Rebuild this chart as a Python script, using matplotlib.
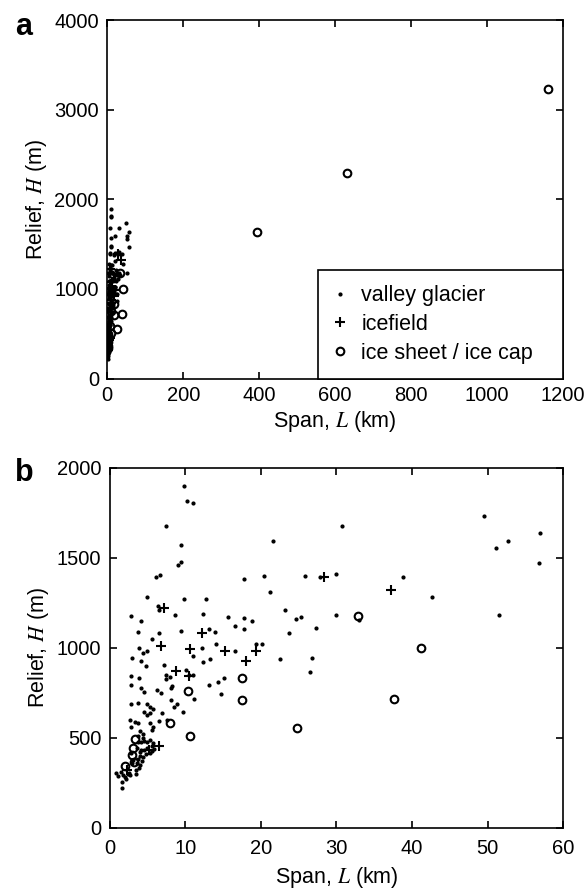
import numpy as np
import matplotlib
matplotlib.use('Agg')
import matplotlib.pyplot as plt

plt.rcParams['font.family'] = ['Liberation Sans', 'DejaVu Sans']
plt.rcParams['mathtext.fontset'] = 'stix'

# valley glacier: span L (km), relief H (m)
valley_L = [9.8, 10.3, 11.1, 7.4, 9.5, 9.0, 9.4, 6.1, 6.7, 4.9, 9.8, 12.7, 17.8, 6.4, 6.6,
            2.8, 4.2, 8.6, 12.3, 15.7, 17.8, 18.9, 16.6, 17.8, 3.7, 6.6, 9.5, 13.1, 13.9, 5.6,
            14.1, 16.6, 19.4, 20.1, 3.9, 4.4, 4.9, 3.0, 12.2, 4.2, 11.0, 12.4, 13.3, 4.8, 7.2,
            10.1, 7.5, 10.5, 11.1, 2.8, 3.9, 15.1,
            2.8, 4.2, 4.6, 6.3, 6.8, 7.5, 8.0, 8.2, 8.1, 11.2, 13.1, 14.4, 14.7, 2.8, 3.8,
            8.1, 8.9, 8.5, 9.7, 6.9, 7.6, 6.5,
            4.9, 5.3, 5.8, 5.4, 5.0, 4.6, 2.7, 2.8, 3.8, 3.4, 5.4, 5.6, 5.8, 4.0, 4.4,
            3.8, 4.4, 3.8, 4.2, 4.6, 5.0, 5.4, 5.8, 5.6, 3.6, 4.0, 4.2, 4.6, 4.8, 5.0,
            5.4, 5.6, 5.9, 4.4, 4.0, 3.8, 4.3, 4.0, 3.6, 3.9, 3.5, 3.5, 2.6, 2.7, 0.9,
            1.1, 1.8, 2.0, 1.6, 1.7, 2.8, 3.1, 2.9, 1.5, 2.2, 2.4,
            30.7, 21.6, 20.4, 25.9, 27.8, 30.0, 38.8, 21.2, 23.2, 24.6, 25.3, 30.0, 33.0,
            23.7, 27.3, 22.5, 26.8, 26.5, 49.5, 51.1, 52.7, 56.9, 56.8, 42.7, 51.5]
valley_H = [1897, 1814, 1804, 1678, 1570, 1463, 1479, 1396, 1403, 1280, 1273, 1269, 1381, 1232, 1213,
            1176, 1147, 1180, 1186, 1173, 1165, 1152, 1124, 1107, 1087, 1084, 1096, 1104, 1087, 1050,
            1020, 983, 1024, 1024, 1002, 972, 981, 946, 1000, 929, 953, 924, 939, 897, 903,
            875, 849, 847, 851, 842, 834, 833,
            791, 775, 755, 768, 751, 827, 838, 790, 775, 716, 791, 812, 744, 688, 695,
            708, 690, 671, 641, 638, 600, 596,
            690, 672, 660, 640, 628, 645, 600, 560, 580, 590, 580, 545, 560, 540, 520,
            510, 500, 475, 478, 482, 478, 488, 470, 455, 445, 420, 435, 430, 410, 445,
            418, 425, 440, 395, 400, 380, 370, 350, 362, 330, 320, 300, 307, 294, 307,
            289, 294, 281, 255, 222, 415, 378, 359, 310, 270, 300,
            1680, 1592, 1397, 1401, 1392, 1410, 1394, 1310, 1213, 1158, 1173, 1184, 1154,
            1085, 1113, 940, 944, 864, 1734, 1557, 1592, 1641, 1470, 1284, 1182]

# icefield
icefield_L = [2.3, 5.2, 6.6, 6.8, 7.2, 8.8, 10.5, 10.7, 12.2, 15.3, 18.0, 19.4, 28.4, 37.2]
icefield_H = [322, 433, 457, 1011, 1219, 873, 845, 996, 1080, 985, 927, 985, 1396, 1321]

# ice sheet / ice cap
sheet_L = [2.0, 3.0, 3.1, 3.2, 3.3, 8.0, 10.6, 10.4, 17.5, 17.5, 24.8, 32.9, 37.6, 41.2,
           395, 630, 1160]
sheet_H = [344, 407, 442, 366, 494, 585, 513, 758, 835, 712, 556, 1176, 716, 998,
           1640, 2290, 3230]

fig = plt.figure(figsize=(5.86, 8.93), dpi=100)
ax_a = fig.add_axes([0.183, 0.576, 0.778, 0.4015])
ax_b = fig.add_axes([0.187, 0.073, 0.774, 0.403])


def draw(ax):
    ax.plot(valley_L, valley_H, 'o', color='black', markersize=2.0, linestyle='none',
            label='valley glacier')
    ax.plot(icefield_L, icefield_H, '+', color='black', markersize=7, markeredgewidth=1.5,
            linestyle='none', label='icefield')
    ax.plot(sheet_L, sheet_H, 'o', color='black', markerfacecolor='none', markersize=5.5,
            markeredgewidth=1.5, linestyle='none', label='ice sheet / ice cap')
    ax.tick_params(direction='in', top=True, right=True, length=5, width=1.2, labelsize=14.5)
    ax.tick_params(axis='y', pad=6)
    for s in ax.spines.values():
        s.set_linewidth(1.2)
    ax.set_ylabel('Relief, $H$ (m)', fontsize=15.5)
    ax.set_xlabel('Span, $L$ (km)', fontsize=15.5, labelpad=3)


draw(ax_a)
ax_a.tick_params(axis='x', pad=5.5)
ax_a.set_xlim(0, 1200)
ax_a.set_ylim(0, 4000)
ax_a.set_xticks(np.arange(0, 1201, 200))
ax_a.set_yticks(np.arange(0, 4001, 1000))
leg = ax_a.legend(loc='lower left', bbox_to_anchor=(0.463, 0, 0.537, 0.297), mode='expand',
                  borderaxespad=0, fancybox=False, edgecolor='black', fontsize=15.5,
                  handlelength=0.6, handletextpad=0.7, borderpad=0.7, labelspacing=0.35,
                  framealpha=1)
leg.get_frame().set_linewidth(1.2)

draw(ax_b)
ax_b.tick_params(axis='x', pad=8)
ax_b.xaxis.labelpad = 5
ax_b.set_xlim(0, 60)
ax_b.set_ylim(0, 2000)
ax_b.set_xticks(np.arange(0, 61, 10))
ax_b.set_yticks(np.arange(0, 2001, 500))

fig.text(0.026, 0.961, 'a', fontsize=22, fontweight='bold')
fig.text(0.026, 0.461, 'b', fontsize=22, fontweight='bold')

fig.savefig('out.png', dpi=100)
